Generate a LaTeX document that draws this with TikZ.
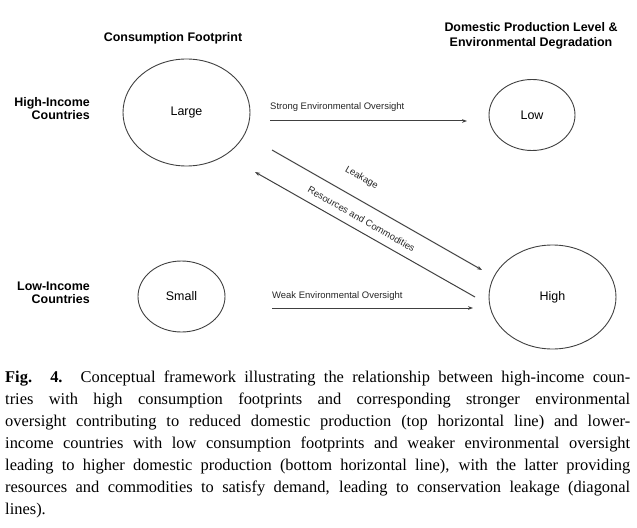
\documentclass[tikz,border=0pt]{standalone}
\usepackage{fontspec}
\setmainfont{Liberation Serif}
\setsansfont{Liberation Sans}
\usetikzlibrary{shapes.geometric,arrows.meta}

\begin{document}
\begin{tikzpicture}[x=1bp, y=-1bp,
    main/.style = {draw=black!75, line width=0.9bp, ellipse, inner sep=0pt, font=\sffamily\fontsize{12.5}{14}\selectfont},
    head/.style = {font=\sffamily\bfseries\fontsize{12.5}{15}\selectfont, align=center},
    row/.style = {font=\sffamily\bfseries\fontsize{12.5}{13.5}\selectfont, align=right, anchor=east, inner sep=0pt},
    lbl/.style = {font=\sffamily\fontsize{9.5}{11}\selectfont, inner sep=0pt, text=black!85},
    link/.style = {draw=black!75, line width=1bp, -{Stealth[length=5bp,width=3.6bp]}},
    figcap/.style = {font=\fontsize{16.5}{22}\selectfont, text width=625bp, align=justify, inner sep=0pt}]
    \useasboundingbox (0,0) rectangle (637,528);
    % headings
    \node[head] (foot) at (173,38) {Consumption Footprint};
    \node[head] (prod) at (531,35.5) {Domestic Production Level \&\\Environmental Degradation};
    \node[row] (hic) at (90,108.5) {High-Income\\Countries};
    \node[row] (lic) at (90,293) {Low-Income\\Countries};
    % circles
    \node[main, minimum width=127bp, minimum height=107bp] (large) at (186.5,112.5) {Large};
    \node[main, minimum width=86bp, minimum height=71bp] (low) at (532,115) {Low};
    \node[main, minimum width=87bp, minimum height=71bp] (small) at (181.5,296.5) {Small};
    \node[main, minimum width=127bp, minimum height=104bp] (high) at (552.5,297) {High};
    % arrow ends
    \coordinate (s1) at (270,121);
    \coordinate (s2) at (467,121);
    \coordinate (w1) at (272,308);
    \coordinate (w2) at (473,308);
    \coordinate (k1) at (272,150);
    \coordinate (k2) at (482,270);
    \coordinate (r1) at (475,297);
    \coordinate (r2) at (255,172);
    \draw[link] (s1) -- (s2);
    \draw[link] (w1) -- (w2);
    \draw[link] (k1) -- (k2);
    \draw[link] (r1) -- (r2);
    \node[lbl, anchor=base west] (strong) at (270,109.5) {Strong Environmental Oversight};
    \node[lbl, anchor=base west] (weak) at (272,298.5) {Weak Environmental Oversight};
    \node[lbl, rotate=-29.7] (leak) at (361.5,178) {Leakage};
    \node[lbl, rotate=-29.7] (res) at (361.5,219) {Resources and Commodities};
    % caption
    \node[figcap, anchor=north west] (caption) at (5,371) {\textbf{Fig. 4.} Conceptual framework illustrating the relationship between high-income coun-\linebreak tries with high consumption footprints and corresponding stronger environmental\linebreak oversight contributing to reduced domestic production (top horizontal line) and lower-\linebreak income countries with low consumption footprints and weaker environmental oversight\linebreak leading to higher domestic production (bottom horizontal line), with the latter providing\linebreak resources and commodities to satisfy demand, leading to conservation leakage (diagonal\linebreak lines).};
\end{tikzpicture}
\end{document}
